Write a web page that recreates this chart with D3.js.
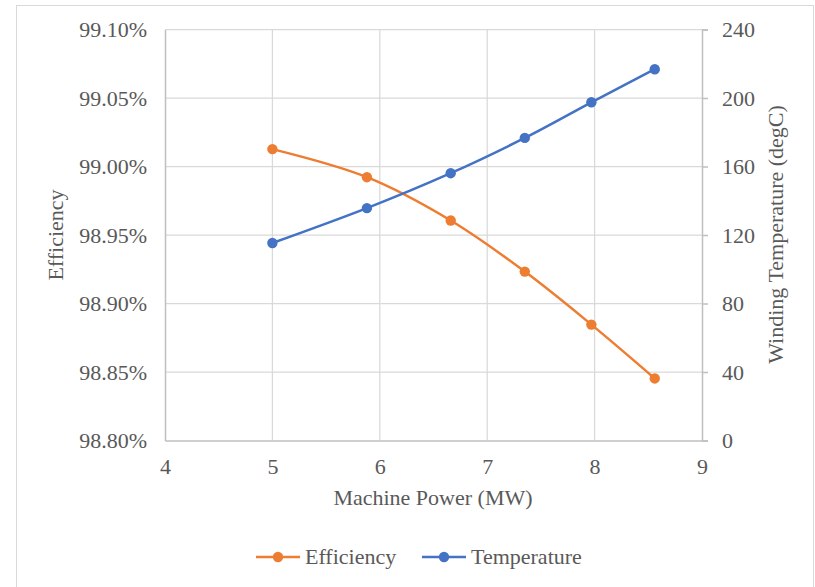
<!DOCTYPE html>
<html>
<head>
<meta charset="utf-8">
<script src="https://cdn.jsdelivr.net/npm/d3@7"></script>
<style>
  html, body { margin: 0; padding: 0; background: #fff; }
  svg { display: block; }
</style>
</head>
<body>
<svg id="chart" width="815" height="587"></svg>
<script>
// ---- data ----
const power = [5.0, 5.88, 6.66, 7.35, 7.97, 8.56];
const efficiency = [99.0127, 98.9922, 98.9606, 98.9233, 98.8846, 98.8453];
const temperature = [115.3, 135.7, 156.1, 176.7, 197.5, 216.8];
const xTicks = [4, 5, 6, 7, 8, 9];
const effTicks = [98.80, 98.85, 98.90, 98.95, 99.00, 99.05, 99.10];
const tempTicks = [0, 40, 80, 120, 160, 200, 240];
const seriesNames = ["Efficiency", "Temperature"];
const seriesColors = ["#ED7D31", "#4472C4"];

const svg = d3.select("#chart");
const FONT = "'Liberation Serif', 'Times New Roman', serif";
const fs = 22;
const txtColor = "#595959";
function styleText(sel) {
  return sel.attr("font-family", null).style("font-family", FONT)
    .style("font-size", fs + "px").style("fill", txtColor);
}

// outer border
svg.append("rect").attr("x", 16.5).attr("y", 5.5).attr("width", 797).attr("height", 600)
  .attr("fill", "#fff").attr("stroke", "#d9d9d9").attr("stroke-width", 1);

const L = 165, R = 702, T = 29.5, B = 440.5;
const x = d3.scaleLinear().domain([4, 9]).range([L, R]);
const yL = d3.scaleLinear().domain([98.80, 99.10]).range([B, T]);
const yR = d3.scaleLinear().domain([0, 240]).range([B, T]);

// gridlines
const grid = svg.append("g");
grid.selectAll("line.h").data(effTicks.slice(1)).join("line")
  .attr("x1", L).attr("x2", R).attr("y1", d => yL(d)).attr("y2", d => yL(d))
  .attr("stroke", "#d9d9d9").attr("stroke-width", 1.25);
grid.selectAll("line.v").data(xTicks.slice(1, -1)).join("line")
  .attr("x1", d => x(d)).attr("x2", d => x(d)).attr("y1", T).attr("y2", B)
  .attr("stroke", "#d9d9d9").attr("stroke-width", 1.25);

// axes
const axisColor = "#bfbfbf";
const xAxis = svg.append("g").attr("transform", `translate(0,${B})`)
  .call(d3.axisBottom(x).tickValues(xTicks).tickSize(0).tickPadding(18).tickFormat(d3.format("d")));
const yAxisL = svg.append("g").attr("transform", `translate(${L},0)`)
  .call(d3.axisLeft(yL).tickValues(effTicks).tickSize(0).tickPadding(18).tickFormat(d => d.toFixed(2) + "%"));
const yAxisR = svg.append("g").attr("transform", `translate(${R},0)`)
  .call(d3.axisRight(yR).tickValues(tempTicks).tickSize(6).tickPadding(14).tickFormat(d3.format("d")));

[xAxis, yAxisL, yAxisR].forEach(g => {
  g.attr("font-family", null);
  g.select(".domain").attr("stroke", axisColor).attr("stroke-width", 1.5);
  g.selectAll(".tick line").attr("stroke", axisColor).attr("stroke-width", 1.5);
  styleText(g.selectAll(".tick text"));
});

// axis titles
styleText(svg.append("text").attr("x", 433).attr("y", 505).attr("text-anchor", "middle"))
  .text("Machine Power (MW)");
styleText(svg.append("text").attr("transform", `translate(63,235) rotate(-90)`).attr("text-anchor", "middle"))
  .text("Efficiency");
styleText(svg.append("text").attr("transform", `translate(783,234.5) rotate(-90)`).attr("text-anchor", "middle"))
  .text("Winding Temperature (degC)");

// series
const curve = d3.curveCardinal.tension(0);
const effData = power.map((p, i) => [p, efficiency[i]]);
const tempData = power.map((p, i) => [p, temperature[i]]);

function drawSeries(data, yScale, color) {
  const line = d3.line().x(d => x(d[0])).y(d => yScale(d[1])).curve(curve);
  svg.append("path").datum(data).attr("d", line).attr("fill", "none")
    .attr("stroke", color).attr("stroke-width", 2.5).attr("stroke-linecap", "round");
  svg.append("g").selectAll("circle").data(data).join("circle")
    .attr("cx", d => x(d[0])).attr("cy", d => yScale(d[1])).attr("r", 5.2)
    .attr("fill", color);
}
drawSeries(effData, yL, seriesColors[0]);
drawSeries(tempData, yR, seriesColors[1]);

// legend
const legendItems = [
  { name: seriesNames[0], color: seriesColors[0], x0: 256 },
  { name: seriesNames[1], color: seriesColors[1], x0: 422 }
];
const ly = 557;
legendItems.forEach(it => {
  const g = svg.append("g");
  g.append("line").attr("x1", it.x0).attr("x2", it.x0 + 44).attr("y1", ly).attr("y2", ly)
    .attr("stroke", it.color).attr("stroke-width", 2.5);
  g.append("circle").attr("cx", it.x0 + 22).attr("cy", ly).attr("r", 5.2).attr("fill", it.color);
  styleText(g.append("text").attr("x", it.x0 + 49).attr("y", ly + 7)).text(it.name);
});
</script>
</body>
</html>
